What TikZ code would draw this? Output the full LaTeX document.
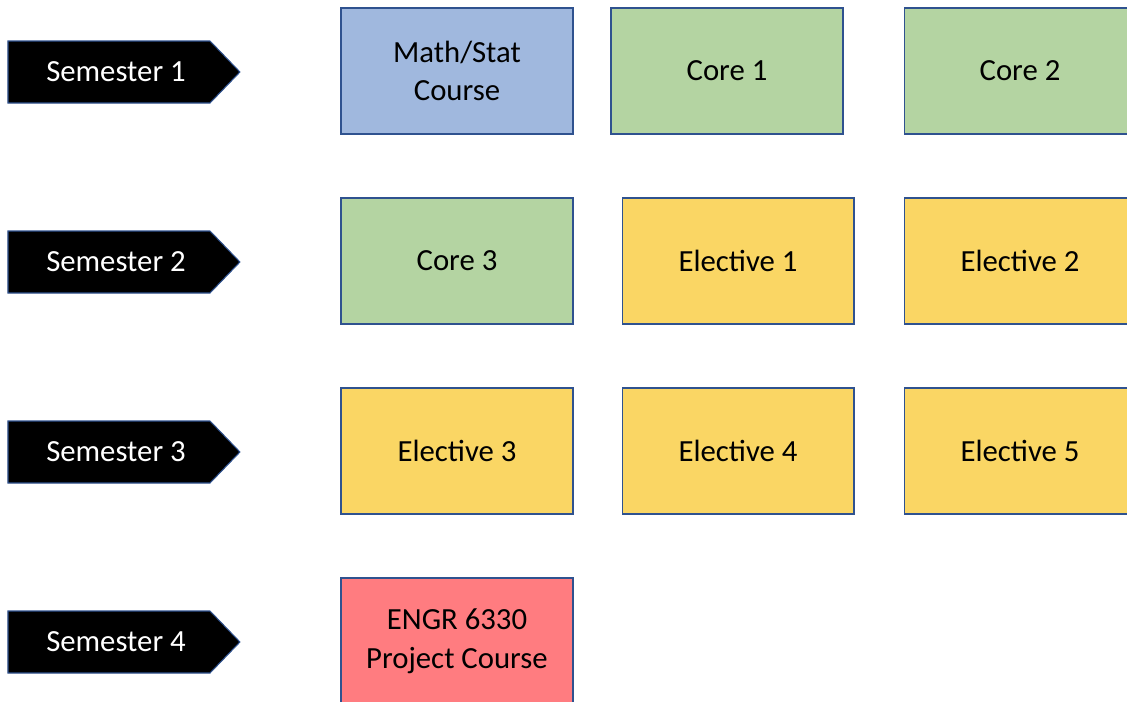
\documentclass[tikz,border=0pt]{standalone}
\usepackage{fontspec}
\setmainfont{Carlito}
\usetikzlibrary{shapes.symbols}
\definecolor{edgeblue}{RGB}{47,82,143}
\definecolor{mathblue}{RGB}{160,184,222}
\definecolor{coregreen}{RGB}{180,212,162}
\definecolor{electyellow}{RGB}{250,214,100}
\definecolor{projred}{RGB}{255,124,128}
\begin{document}
\begin{tikzpicture}[x=0.02cm, y=-0.02cm]
	\tikzset{sem/.style={signal, signal to=east, signal pointer angle=92, fill=black, draw=edgeblue, line width=0.6pt, text=white, minimum width=4.64cm, minimum height=1.24cm, inner sep=0pt, font=\fontsize{17.5}{22}\selectfont}};
	\tikzset{course/.style={rectangle, draw=edgeblue, line width=0.6pt, minimum width=4.64cm, minimum height=2.52cm, align=center, font=\fontsize{17.5}{22}\selectfont}};

	\clip (0,0) rectangle (1127,701);

	\node[sem] (s1) at (109, 72) {\hspace{0.28cm}Semester 1};
	\node[sem] (s2) at (109, 262) {\hspace{0.28cm}Semester 2};
	\node[sem] (s3) at (109, 452) {\hspace{0.28cm}Semester 3};
	\node[sem] (s4) at (109, 642) {\hspace{0.28cm}Semester 4};

	\node[course, fill=mathblue] (math) at (457, 71) {Math/Stat\\Course};
	\node[course, fill=coregreen] (c1) at (727, 71) {Core 1};
	\node[course, fill=coregreen] (c2) at (1020, 71) {Core 2};

	\node[course, fill=coregreen] (c3) at (457, 261) {Core 3};
	\node[course, fill=electyellow] (e1) at (738, 261) {Elective 1};
	\node[course, fill=electyellow] (e2) at (1020, 261) {Elective 2};

	\node[course, fill=electyellow] (e3) at (457, 451) {Elective 3};
	\node[course, fill=electyellow] (e4) at (738, 451) {Elective 4};
	\node[course, fill=electyellow] (e5) at (1020, 451) {Elective 5};

	\node[course, fill=projred] (proj) at (457, 641) {ENGR 6330\\Project Course};
\end{tikzpicture}
\end{document}
